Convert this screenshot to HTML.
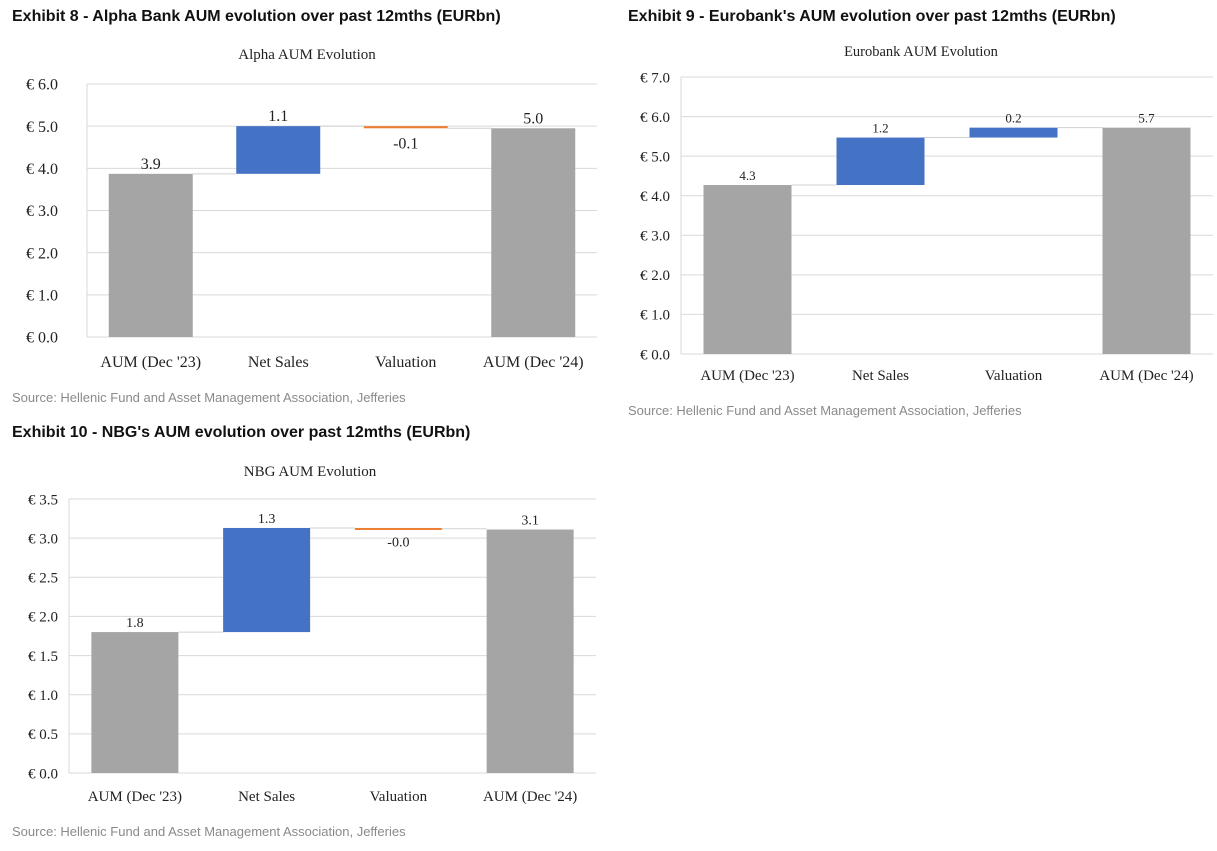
<!DOCTYPE html>
<html><head><meta charset="utf-8"><style>
html,body{margin:0;padding:0;background:#fff;width:1217px;height:851px;overflow:hidden}
svg{display:block}
.hdr{font-family:"Liberation Sans",sans-serif;font-weight:bold;font-size:16px;fill:#111}
.src{font-family:"Liberation Sans",sans-serif;font-size:13px;fill:#8a8a8a}
.ser{font-family:"Liberation Serif",serif;fill:#222}
</style></head><body>
<svg id="svg" width="1217" height="851" xmlns="http://www.w3.org/2000/svg">
<text class="hdr" x="12" y="21">Exhibit 8 - Alpha Bank AUM evolution over past 12mths (EURbn)</text>
<text class="hdr" x="628" y="21">Exhibit 9 - Eurobank's AUM evolution over past 12mths (EURbn)</text>
<text class="hdr" x="12" y="437">Exhibit 10 - NBG's AUM evolution over past 12mths (EURbn)</text>
<text class="src" x="12" y="402">Source: Hellenic Fund and Asset Management Association, Jefferies</text>
<text class="src" x="628" y="415">Source: Hellenic Fund and Asset Management Association, Jefferies</text>
<text class="src" x="12" y="836">Source: Hellenic Fund and Asset Management Association, Jefferies</text>
</svg>
<script>
const categories = ["AUM (Dec '23)", "Net Sales", "Valuation", "AUM (Dec '24)"];
const alphaValues = [3.87, 1.13, -0.05, 4.95];
const alphaLabels = ["3.9", "1.1", "-0.1", "5.0"];
const alphaTicks = [0, 1, 2, 3, 4, 5, 6];
const euroValues = [4.27, 1.2, 0.25, 5.72];
const euroLabels = ["4.3", "1.2", "0.2", "5.7"];
const euroTicks = [0, 1, 2, 3, 4, 5, 6, 7];
const nbgValues = [1.8, 1.33, -0.01, 3.11];
const nbgLabels = ["1.8", "1.3", "-0.0", "3.1"];
const nbgTicks = [0, 0.5, 1, 1.5, 2, 2.5, 3, 3.5];

const NS = "http://www.w3.org/2000/svg";
const svg = document.getElementById('svg');
function mk(tag, attrs, parent) {
  const e = document.createElementNS(NS, tag);
  for (const k in attrs) e.setAttribute(k, attrs[k]);
  (parent || svg).appendChild(e);
  return e;
}
function drawChart(cfg, values, labels, ticks) {
  const g = mk('g', {});
  
  
  const maxV = ticks[ticks.length - 1];
  const y = v => cfg.y0 - (v / maxV) * (cfg.y0 - cfg.yTop);
  const step = (cfg.right - cfg.left) / categories.length;
  const cx = i => cfg.left + step * (i + 0.5);
  const t = mk('text', {x: cfg.titleX, y: cfg.titleY, 'text-anchor': 'middle', class: 'ser', 'font-size': cfg.titleSize}, g);
  t.textContent = cfg.title;
  
  
  ticks.forEach(v => {
    const ln = mk('line', {x1: cfg.left, x2: cfg.right, y1: y(v), y2: y(v), stroke: '#d9d9d9', 'stroke-width': 1}, g);
    
    
    const tx = mk('text', {x: cfg.left - cfg.tickGap, y: y(v) + cfg.tickSize * 0.35, 'text-anchor': 'end', class: 'ser', 'font-size': cfg.tickSize}, g);
    tx.textContent = '€ ' + v.toFixed(1);
    
    
  });
  const ax = mk('line', {x1: cfg.left, x2: cfg.left, y1: cfg.yTop, y2: cfg.y0, stroke: '#d9d9d9', 'stroke-width': 1}, g);
  
  
  let run = 0;
  const tops = [];
  values.forEach((v, i) => {
    let a, b, col;
    if (i === 0 || i === values.length - 1) { a = 0; b = v; col = '#a5a5a5'; run = v; }
    else { a = run; b = run + v; run = b; col = v >= 0 ? '#4472c4' : '#ed7d31'; }
    const top = Math.max(a, b), bot = Math.min(a, b);
    let h = y(bot) - y(top); if (h < 2) h = 2;
    const r = mk('rect', {x: cx(i) - cfg.barW / 2, y: y(top), width: cfg.barW, height: h, fill: col}, g);
    
    
    tops.push(run);
    const neg = v < 0 && i > 0 && i < values.length - 1;
    const lb = mk('text', {x: cx(i), y: neg ? y(bot) + cfg.lblSize + 4 : y(top) - 5, 'text-anchor': 'middle', class: 'ser', 'font-size': cfg.lblSize, fill: cfg.lblColor}, g);
    lb.textContent = labels[i];
    
    
    const cl = mk('text', {x: cx(i), y: cfg.catY, 'text-anchor': 'middle', class: 'ser', 'font-size': cfg.catSize}, g);
    cl.textContent = categories[i];
    
    
  });
  for (let i = 0; i < values.length - 1; i++) {
    const c = mk('line', {x1: cx(i) + cfg.barW / 2, x2: cx(i + 1) - cfg.barW / 2, y1: y(tops[i]), y2: y(tops[i]), stroke: '#d0d0d0', 'stroke-width': 1}, g);
    
    
  }
}
drawChart({name: 'alpha-chart', title: 'Alpha AUM Evolution', titleX: 307, titleY: 59, titleSize: 15,
  left: 87, right: 597, yTop: 84, y0: 337, barW: 84, tickSize: 16, tickGap: 29, lblSize: 16, lblColor: '#222', catY: 367, catSize: 16},
  alphaValues, alphaLabels, alphaTicks);
drawChart({name: 'eurobank-chart', title: 'Eurobank AUM Evolution', titleX: 921, titleY: 56, titleSize: 14.5,
  left: 681, right: 1213, yTop: 77, y0: 354, barW: 88, tickSize: 15, tickGap: 11, lblSize: 13, lblColor: '#666', catY: 380, catSize: 15},
  euroValues, euroLabels, euroTicks);
drawChart({name: 'nbg-chart', title: 'NBG AUM Evolution', titleX: 310, titleY: 476, titleSize: 15,
  left: 69, right: 596, yTop: 499, y0: 773, barW: 87, tickSize: 15, tickGap: 11, lblSize: 14, lblColor: '#555', catY: 801, catSize: 15},
  nbgValues, nbgLabels, nbgTicks);
</script>
</body></html>
